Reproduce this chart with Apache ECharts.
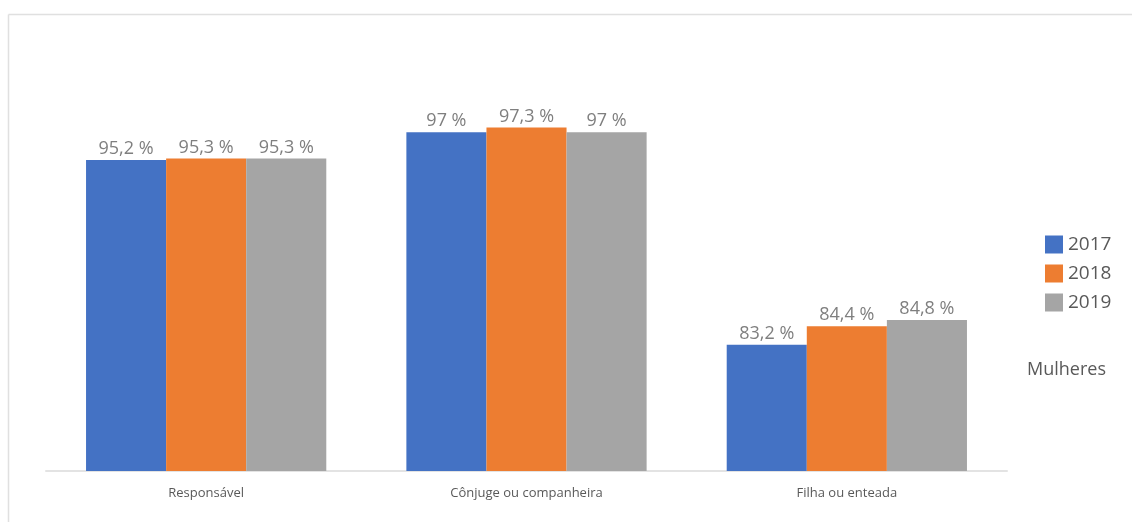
<!DOCTYPE html>
<html>
<head>
<meta charset="utf-8">
<script src="https://cdn.jsdelivr.net/npm/echarts@6/dist/echarts.min.js"></script>
<style>html,body{margin:0;padding:0;background:#fff;}#c{width:1132px;height:522px;}</style>
</head>
<body>
<div id="c"></div>
<script>
const categories = ['Responsável', 'Cônjuge ou companheira', 'Filha ou enteada'];
const years = ['2017', '2018', '2019'];
const values2017 = [95.2, 97, 83.2];
const values2018 = [95.3, 97.3, 84.4];
const values2019 = [95.3, 97, 84.8];
const colors = ['#4472c4', '#ed7d31', '#a5a5a5'];
const seriesValues = [values2017, values2018, values2019];

const chart = echarts.init(document.getElementById('c'));
const fmt = v => String(v.value).replace('.', ',') + ' %';
chart.setOption({
  animation: false,
  backgroundColor: '#ffffff',
  textStyle: { fontFamily: 'Open Sans' },
  title: {
    text: 'Mulheres', left: 1027, top: 361, padding: 0,
    textStyle: { fontFamily: 'Open Sans', fontSize: 18, fontWeight: 'normal', color: '#595959' }
  },
  legend: {
    data: years, orient: 'vertical', left: 1045, top: 235, padding: 0,
    itemWidth: 18, itemHeight: 18, itemGap: 10,
    icon: 'rect',
    textStyle: { fontFamily: 'Open Sans', fontSize: 19, color: '#595959' }
  },
  graphic: [
    { type: 'line', shape: { x1: 8.5, y1: 14.5, x2: 1132, y2: 14.5 }, style: { stroke: '#e0e0e0', lineWidth: 1.5 } },
    { type: 'line', shape: { x1: 8.5, y1: 14.5, x2: 8.5, y2: 522 }, style: { stroke: '#e0e0e0', lineWidth: 1.5 } }
  ],
  grid: { left: 46, right: 125, top: 86, bottom: 51 },
  xAxis: {
    type: 'category', data: categories,
    axisLine: { lineStyle: { color: '#e3e3e3', width: 2 } },
    axisTick: { show: false },
    axisLabel: { fontFamily: 'Open Sans', fontSize: 13, color: '#595959', margin: 16 }
  },
  yAxis: { type: 'value', min: 75, max: 100, show: false, splitLine: { show: false } },
  series: years.map((y, i) => ({
    name: y, type: 'bar', data: seriesValues[i],
    barGap: '0%', barCategoryGap: '25%',
    itemStyle: { color: colors[i] },
    label: { show: true, position: 'top', distance: 2, formatter: fmt,
      fontFamily: 'Open Sans', fontSize: 18, color: '#7f7f7f' }
  }))
});
</script>
</body>
</html>
